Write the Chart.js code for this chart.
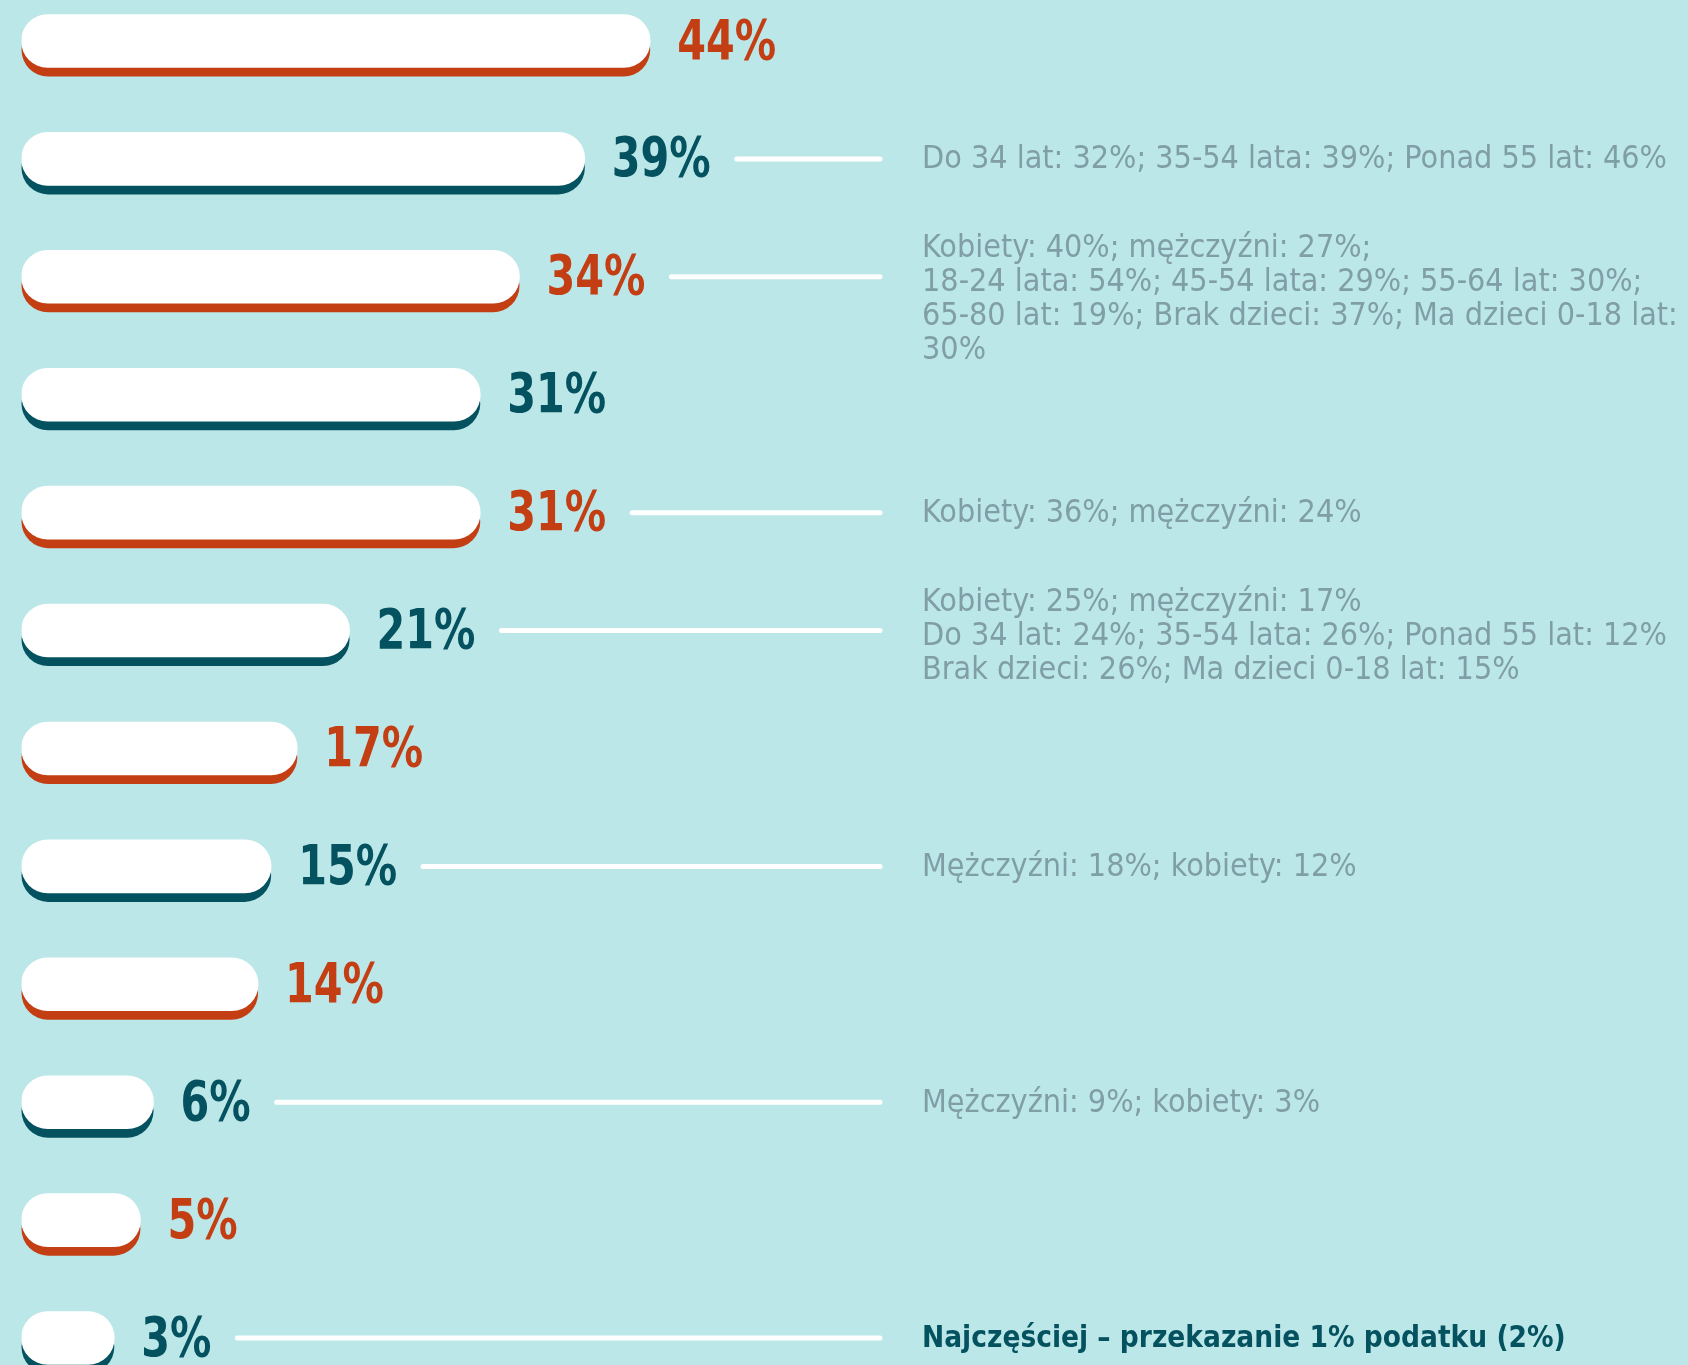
<!DOCTYPE html>
<html>
<head>
<meta charset="utf-8">
<script src="https://cdn.jsdelivr.net/npm/chart.js@4.4.1/dist/chart.umd.min.js"></script>
<style>
  html, body { margin: 0; padding: 0; background: #bce7e8; width: 1688px; height: 1365px; overflow: hidden; }
  #wrap { position: absolute; left: 0; top: -18px; width: 1688px; height: 1415px; }
</style>
</head>
<body>
<div id="wrap"><canvas id="myChart" width="1688" height="1415"></canvas></div>
<script>
// values shown on the bars (%)
const values = [44, 39, 34, 31, 31, 21, 17, 15, 14, 6, 5, 3];
const categories = values.map(function(v, i) { return 'row' + (i + 1); });

// side notes, one list of lines per bar (empty = no note)
const notes = [
    [],
    ['Do 34 lat: 32%; 35-54 lata: 39%; Ponad 55 lat: 46%'],
    ['Kobiety: 40%; mężczyźni: 27%;', '18-24 lata: 54%; 45-54 lata: 29%; 55-64 lat: 30%;', '65-80 lat: 19%; Brak dzieci: 37%; Ma dzieci 0-18 lat:', '30%'],
    [],
    ['Kobiety: 36%; mężczyźni: 24%'],
    ['Kobiety: 25%; mężczyźni: 17%', 'Do 34 lat: 24%; 35-54 lata: 26%; Ponad 55 lat: 12%', 'Brak dzieci: 26%; Ma dzieci 0-18 lat: 15%'],
    [],
    ['Mężczyźni: 18%; kobiety: 12%'],
    [],
    ['Mężczyźni: 9%; kobiety: 3%'],
    [],
    ['Najczęściej – przekazanie 1% podatku (2%)']
];

const ORANGE = '#c43e14';
const TEAL = '#04525f';
const NOTE_GREY = '#809ea5';
const LABEL_FONT = 'bold 56px "Liberation Sans Narrow", "DejaVu Sans Condensed", sans-serif';
const NOTE_FONT = '32px "Liberation Sans Narrow", "DejaVu Sans Condensed", sans-serif';
const NOTE_FONT_BOLD = 'bold 29.5px "Liberation Sans Narrow", "DejaVu Sans Condensed", sans-serif';
const LABEL_SQUEEZE = 0.82;

function rowColor(i) { return i % 2 === 0 ? ORANGE : TEAL; }

function roundRect(ctx, x, y, w, h, r) {
    ctx.beginPath();
    ctx.moveTo(x + r, y);
    ctx.lineTo(x + w - r, y);
    ctx.arc(x + w - r, y + r, r, -Math.PI / 2, Math.PI / 2);
    ctx.lineTo(x + r, y + h);
    ctx.arc(x + r, y + r, r, Math.PI / 2, Math.PI * 1.5);
    ctx.closePath();
}

// coloured shadow under each pill
const shadowPlugin = {
    id: 'shadowPlugin',
    beforeDatasetsDraw(chart) {
        const ctx = chart.ctx;
        chart.getDatasetMeta(0).data.forEach(function(bar, i) {
            const p = bar.getProps(['x', 'y', 'base', 'height'], true);
            const h = p.height;
            ctx.fillStyle = rowColor(i);
            roundRect(ctx, p.base, p.y - h / 2 + 9, p.x - p.base, h, h / 2);
            ctx.fill();
        });
    }
};

// value labels, connector lines and notes
const labelPlugin = {
    id: 'labelPlugin',
    afterDatasetsDraw(chart) {
        const ctx = chart.ctx;
        const lineEnd = 880;
        const noteX = 922;
        const lineH = 34;
        chart.getDatasetMeta(0).data.forEach(function(bar, i) {
            const p = bar.getProps(['x', 'y'], true);
            ctx.save();
            ctx.font = LABEL_FONT;
            ctx.fillStyle = rowColor(i);
            ctx.textBaseline = 'middle';
            ctx.textAlign = 'left';
            const txt = values[i] + '%';
            const lx = p.x + 27;
            // condensed look of the original numerals
            ctx.save();
            ctx.translate(lx, p.y + 3);
            ctx.scale(LABEL_SQUEEZE, 1);
            ctx.fillText(txt, 0, 0);
            ctx.restore();
            const tw = ctx.measureText(txt).width * LABEL_SQUEEZE;

            const lines = notes[i];
            if (lines.length) {
                ctx.strokeStyle = '#ffffff';
                ctx.lineWidth = 5;
                ctx.lineCap = 'round';
                ctx.beginPath();
                ctx.moveTo(lx + tw + 26, p.y);
                ctx.lineTo(lineEnd, p.y);
                ctx.stroke();

                const last = i === values.length - 1;
                ctx.font = last ? NOTE_FONT_BOLD : NOTE_FONT;
                ctx.fillStyle = last ? TEAL : NOTE_GREY;
                const start = lines.length > 1
                    ? p.y - lineH + 6
                    : p.y + 1;
                lines.forEach(function(t, k) {
                    ctx.fillText(t, noteX, start + k * lineH);
                });
            }
            ctx.restore();
        });
    }
};

const ctx = document.getElementById('myChart').getContext('2d');
const myChart = new Chart(ctx, {
    type: 'bar',
    data: {
        labels: categories,
        datasets: [{
            data: values,
            base: -4.1,
            backgroundColor: '#ffffff',
            barThickness: 53,
            borderRadius: 27,
            borderSkipped: false
        }]
    },
    options: {
        indexAxis: 'y',
        responsive: false,
        animation: false,
        devicePixelRatio: 1,
        layout: { padding: { left: 21.5, right: 0, top: 0, bottom: 0 } },
        plugins: { legend: { display: false }, tooltip: { enabled: false } },
        scales: {
            x: { display: false, min: -4.1, max: 123.4 },
            y: { display: false }
        }
    },
    plugins: [shadowPlugin, labelPlugin]
});
</script>
</body>
</html>
